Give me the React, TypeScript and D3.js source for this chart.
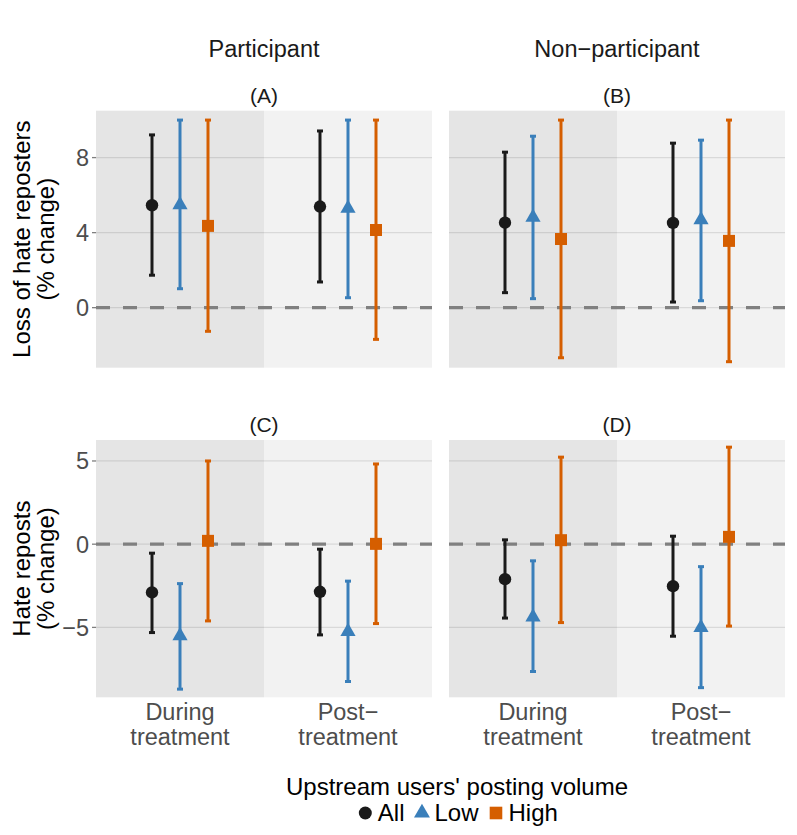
import React from "react";
import * as d3 from "d3";

// categories
const periods = ["During\ntreatment", "Post\u2212\ntreatment"];
const groups = ["All", "Low", "High"];
const groupColors = ["#1A1A1A", "#3A7FBA", "#D55E00"];
const columns = ["Participant", "Non\u2212participant"];
const rowTitles = [
  ["Loss of hate reposters", "(% change)"],
  ["Hate reposts", "(% change)"],
];
const panelLabels = ["(A)", "(B)", "(C)", "(D)"];

// values are ordered: During (All, Low, High), Post (All, Low, High)
const lossPartEst = [5.46, 5.48, 4.36, 5.39, 5.3, 4.14];
const lossPartLo = [1.73, 1.01, -1.26, 1.37, 0.53, -1.69];
const lossPartHi = [9.21, 10.0, 10.0, 9.42, 10.0, 10.0];
const lossNonEst = [4.53, 4.82, 3.66, 4.52, 4.68, 3.56];
const lossNonLo = [0.8, 0.48, -2.67, 0.3, 0.37, -2.88];
const lossNonHi = [8.29, 9.14, 10.0, 8.77, 8.93, 10.0];
const repPartEst = [-2.9, -5.51, 0.2, -2.86, -5.25, 0.02];
const repPartLo = [-5.31, -8.71, -4.61, -5.45, -8.25, -4.77];
const repPartHi = [-0.54, -2.37, 5.0, -0.3, -2.22, 4.82];
const repNonEst = [-2.1, -4.38, 0.24, -2.52, -5.01, 0.44];
const repNonLo = [-4.44, -7.65, -4.71, -5.53, -8.62, -4.92];
const repNonHi = [0.26, -1.0, 5.23, 0.48, -1.35, 5.83];

const topTicks = [0, 4, 8];
const bottomTicks = [-5, 0, 5];
const topDomain: [number, number] = [-3.2, 10.5];
const bottomDomain: [number, number] = [-9.2, 6.26];

const W = 797;
const H = 835;
const FONT = "'Liberation Sans', Arial, Helvetica, sans-serif";
const colX: [number, number][] = [
  [96, 432],
  [449, 785],
];
const rowY: [number, number][] = [
  [110.7, 367.7],
  [440, 697.3],
];
const PERIOD_FILL = ["#E5E5E5", "#F2F2F2"];

const triPath = d3.symbol(d3.symbolTriangle, 100)() ?? "";

function Marker({ g, x, y, scale = 1 }: { g: number; x: number; y: number; scale?: number }) {
  const c = groupColors[g];
  if (g === 0) return <circle cx={x} cy={y} r={6.2 * scale} fill={c} />;
  if (g === 1)
    return <path d={triPath} transform={`translate(${x},${y}) scale(${scale})`} fill={c} />;
  const s = 12 * scale;
  return <rect x={x - s / 2} y={y - s / 2} width={s} height={s} fill={c} />;
}

interface PanelProps {
  xr: [number, number];
  yr: [number, number];
  domain: [number, number];
  ticks: number[];
  est: number[];
  lo: number[];
  hi: number[];
  showY: boolean;
  showX: boolean;
  label: string;
}

function Panel({ xr, yr, domain, ticks, est, lo, hi, showY, showX, label }: PanelProps) {
  const x = d3.scaleBand<number>().domain([0, 1]).range(xr).padding(0);
  const bw = x.bandwidth();
  const dodge = d3.scalePoint<number>().domain([0, 1, 2]).range([-bw / 6, bw / 6]);
  const y = d3.scaleLinear().domain(domain).range([yr[1], yr[0]]);
  const fmt = (v: number) => (v < 0 ? "\u2212" + Math.abs(v) : String(v));

  const items = est.map((e, i) => {
    const p = Math.floor(i / 3);
    const g = i % 3;
    return { p, g, e, l: lo[i], h: hi[i], cx: (x(p) ?? 0) + bw / 2 + (dodge(g) ?? 0) };
  });

  return (
    <g>
      {[0, 1].map((p) => (
        <rect
          key={p}
          x={x(p)}
          y={yr[0]}
          width={bw}
          height={yr[1] - yr[0]}
          fill={PERIOD_FILL[p]}
        />
      ))}
      {ticks.map((t) => (
        <line
          key={t}
          x1={xr[0]}
          x2={xr[1]}
          y1={y(t)}
          y2={y(t)}
          stroke="rgba(0,0,0,0.1)"
          strokeWidth={1.3}
        />
      ))}
      <line
        x1={xr[0]}
        x2={xr[1]}
        y1={y(0)}
        y2={y(0)}
        stroke="#808080"
        strokeWidth={3.2}
        strokeDasharray="14 13"
      />
      {items.map((d, i) => (
        <g key={i}>
          <line x1={d.cx} x2={d.cx} y1={y(d.l)} y2={y(d.h)} stroke={groupColors[d.g]} strokeWidth={3} />
          <line x1={d.cx - 3} x2={d.cx + 3} y1={y(d.l)} y2={y(d.l)} stroke={groupColors[d.g]} strokeWidth={3} />
          <line x1={d.cx - 3} x2={d.cx + 3} y1={y(d.h)} y2={y(d.h)} stroke={groupColors[d.g]} strokeWidth={3} />
          <Marker g={d.g} x={d.cx} y={y(d.e)} />
        </g>
      ))}
      <text
        x={(xr[0] + xr[1]) / 2}
        y={yr[0] - 8}
        textAnchor="middle"
        fontSize={21}
        fontFamily={FONT}
        fill="#1A1A1A"
      >
        {label}
      </text>
      {showY &&
        ticks.map((t) => (
          <g key={t}>
            <line x1={xr[0] - 4} x2={xr[0]} y1={y(t)} y2={y(t)} stroke="#7F7F7F" strokeWidth={1.3} />
            <text
              x={xr[0] - 7}
              y={y(t)}
              dy="0.36em"
              textAnchor="end"
              fontSize={23.5}
              fontFamily={FONT}
              fill="#4D4D4D"
            >
              {fmt(t)}
            </text>
          </g>
        ))}
      {showX &&
        periods.map((lab, p) => (
          <text
            key={p}
            x={(x(p) ?? 0) + bw / 2}
            y={yr[1] + 23}
            textAnchor="middle"
            fontSize={23.5}
            fontFamily={FONT}
            fill="#4D4D4D"
          >
            {lab.split("\n").map((ln, k) => (
              <tspan key={k} x={(x(p) ?? 0) + bw / 2} dy={k === 0 ? 0 : 25}>
                {ln}
              </tspan>
            ))}
          </text>
        ))}
    </g>
  );
}

export default function App() {
  const panels = [
    { est: lossPartEst, lo: lossPartLo, hi: lossPartHi },
    { est: lossNonEst, lo: lossNonLo, hi: lossNonHi },
    { est: repPartEst, lo: repPartLo, hi: repPartHi },
    { est: repNonEst, lo: repNonLo, hi: repNonHi },
  ];

  // legend layout: key + label widths (approx. em widths for Arial)
  const labelEm = [1.111, 1.834, 1.946];
  const legendFont = 24;
  const keyW = 13;
  const gapKeyText = 6;
  const gapItems = 11;
  const itemW = labelEm.map((em) => keyW + gapKeyText + em * legendFont);
  const totalW = d3.sum(itemW) + gapItems * (itemW.length - 1);
  const legendCx = 457;
  let cursor = legendCx - totalW / 2;
  const legendItems = itemW.map((w, i) => {
    const start = cursor;
    cursor += w + gapItems;
    return { i, start };
  });

  return (
    <svg
      width={W}
      height={H}
      style={{ position: "absolute", left: 0, top: 0, background: "#fff" }}
    >
      <rect width={W} height={H} fill="#fff" />
      {columns.map((c, ci) => (
        <text
          key={c}
          x={(colX[ci][0] + colX[ci][1]) / 2}
          y={57}
          textAnchor="middle"
          fontSize={23.5}
          fontFamily={FONT}
          fill="#1A1A1A"
        >
          {c}
        </text>
      ))}
      {panels.map((pd, i) => {
        const r = Math.floor(i / 2);
        const c = i % 2;
        return (
          <Panel
            key={i}
            xr={colX[c]}
            yr={rowY[r]}
            domain={r === 0 ? topDomain : bottomDomain}
            ticks={r === 0 ? topTicks : bottomTicks}
            est={pd.est}
            lo={pd.lo}
            hi={pd.hi}
            showY={c === 0}
            showX={r === 1}
            label={panelLabels[i]}
          />
        );
      })}
      {rowTitles.map((lines, r) => {
        const cy = (rowY[r][0] + rowY[r][1]) / 2;
        return (
          <text
            key={r}
            transform={`translate(30,${cy}) rotate(-90)`}
            textAnchor="middle"
            fontSize={24}
            fontFamily={FONT}
            fill="#000"
          >
            {lines.map((ln, k) => (
              <tspan key={k} x={0} dy={k === 0 ? 0 : 24}>
                {ln}
              </tspan>
            ))}
          </text>
        );
      })}
      <text x={legendCx} y={795} textAnchor="middle" fontSize={legendFont} fontFamily={FONT} fill="#000">
        Upstream users' posting volume
      </text>
      {legendItems.map(({ i, start }) => (
        <g key={i}>
          <Marker g={i} x={start + keyW / 2} y={813} scale={1.05} />
          <text
            x={start + keyW + gapKeyText}
            y={821}
            fontSize={legendFont}
            fontFamily={FONT}
            fill="#000"
          >
            {groups[i]}
          </text>
        </g>
      ))}
    </svg>
  );
}
